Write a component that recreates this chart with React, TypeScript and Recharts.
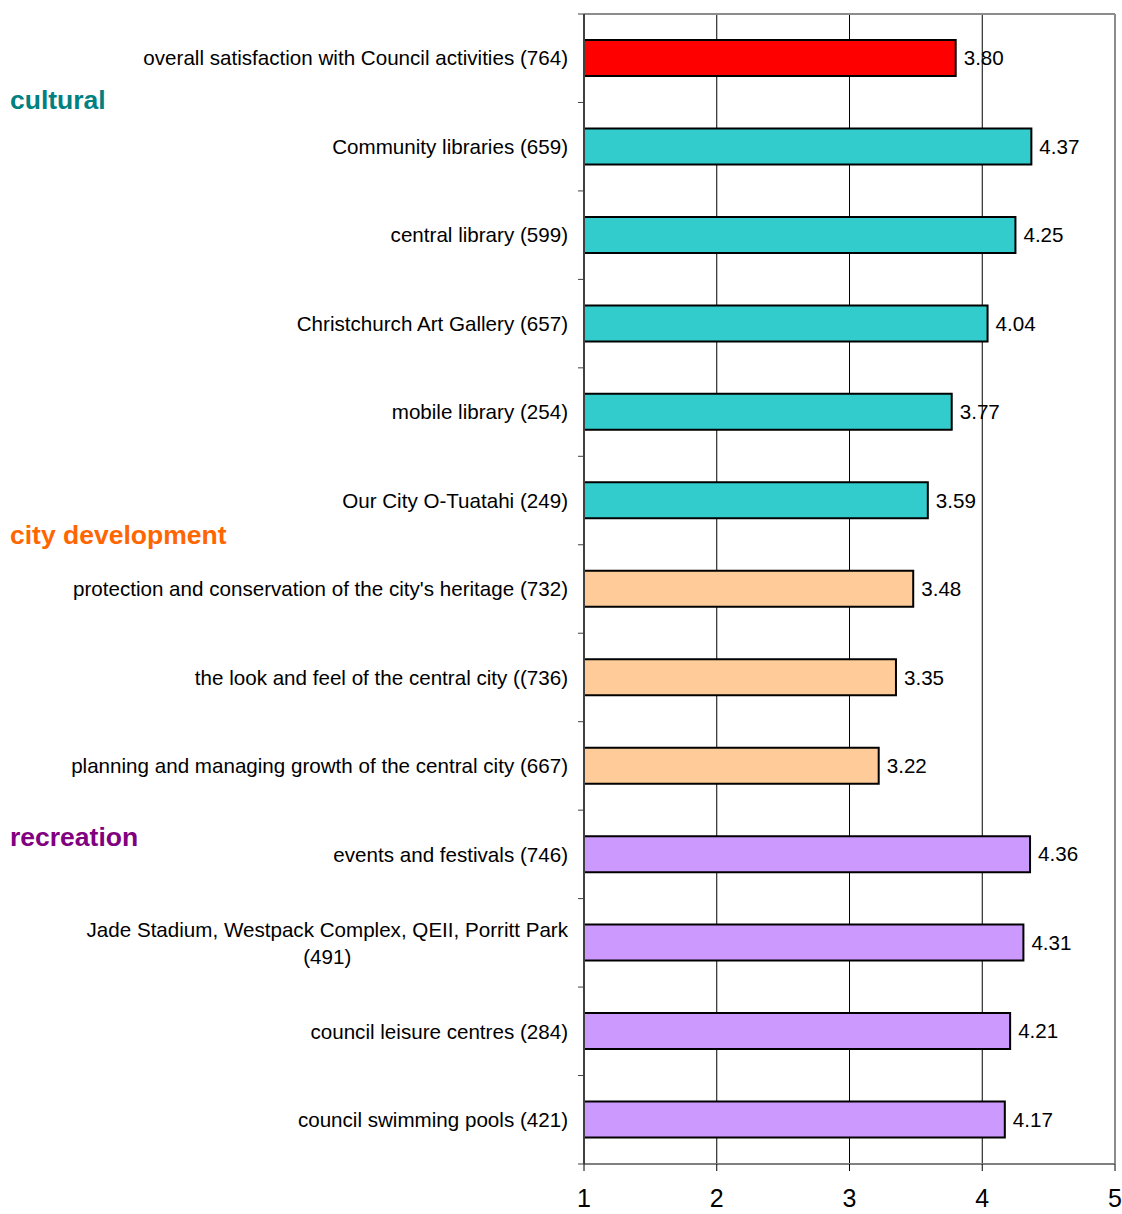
import React from 'react';
import { BarChart, Bar, XAxis, YAxis, CartesianGrid, Cell, LabelList } from 'recharts';

// rows, top to bottom
const categories = [
  'overall satisfaction with Council activities (764)',
  'Community libraries (659)',
  'central library (599)',
  'Christchurch Art Gallery (657)',
  'mobile library (254)',
  'Our City O-Tuatahi (249)',
  "protection and conservation of the city's heritage (732)",
  'the look and feel of the central city ((736)',
  'planning and managing growth of the central city (667)',
  'events and festivals (746)',
  'Jade Stadium, Westpack Complex, QEII, Porritt Park (491)',
  'council leisure centres (284)',
  'council swimming pools (421)',
];
const scores = [3.8, 4.37, 4.25, 4.04, 3.77, 3.59, 3.48, 3.35, 3.22, 4.36, 4.31, 4.21, 4.17];
const groupOf = [
  'overall', 'cultural', 'cultural', 'cultural', 'cultural', 'cultural',
  'city development', 'city development', 'city development',
  'recreation', 'recreation', 'recreation', 'recreation',
];
const xTicks = [1, 2, 3, 4, 5];

const barColors: Record<string, string> = {
  overall: '#FF0000',
  cultural: '#33CCCC',
  'city development': '#FFCC99',
  recreation: '#CC99FF',
};
const headers = [
  { text: 'cultural', color: '#008080' },
  { text: 'city development', color: '#FF6600' },
  { text: 'recreation', color: '#800080' },
];
const headerTops = [85, 520, 822];

const W = 1122;
const H = 1214;
const MARGIN = { top: 14, right: 7, left: 0, bottom: 0 };
const X_AXIS_H = 50;
const Y_AXIS_W = 584;
const BAND = (H - MARGIN.top - MARGIN.bottom - X_AXIS_H) / categories.length;
const LABEL_SIZE = 20.6;
const LABEL_FONT = `${LABEL_SIZE}px Arial, "Liberation Sans", sans-serif`;
const MAX_LABEL_W = 520;

const data = categories.map((name, i) => ({ name, score: scores[i], group: groupOf[i] }));

let ctx: CanvasRenderingContext2D | null = null;
const measure = (s: string) => {
  if (!ctx) {
    ctx = document.createElement('canvas').getContext('2d');
    if (ctx) ctx.font = LABEL_FONT;
  }
  return ctx ? ctx.measureText(s).width : s.length * 10;
};

const wrap = (s: string) => {
  if (measure(s) <= MAX_LABEL_W) return [s];
  const words = s.split(' ');
  const lines: string[] = [];
  let cur = '';
  for (const w of words) {
    const next = cur ? cur + ' ' + w : w;
    if (measure(next) > MAX_LABEL_W && cur) {
      lines.push(cur);
      cur = w;
    } else cur = next;
  }
  if (cur) lines.push(cur);
  return lines;
};

const CategoryTick = (props: any) => {
  const { x, y, payload, index } = props;
  const lines = wrap(String(payload.value));
  const axisX = x + 16;
  const marks = [y - BAND / 2];
  if (index === categories.length - 1) marks.push(y + BAND / 2);
  const maxW = Math.max(...lines.map(measure));
  const lh = 27;
  return (
    <g>
      {marks.map((my, k) => (
        <line key={k} x1={axisX - 6} x2={axisX} y1={my} y2={my} stroke="#404040" strokeWidth={1} />
      ))}
      {lines.length === 1 ? (
        <text x={x} y={y} dy="0.35em" textAnchor="end" fontSize={LABEL_SIZE} fill="#000">
          {lines[0]}
        </text>
      ) : (
        <text x={x - maxW / 2} y={y - ((lines.length - 1) * lh) / 2} textAnchor="middle" fontSize={LABEL_SIZE} fill="#000">
          {lines.map((l, k) => (
            <tspan key={k} x={x - maxW / 2} dy={k === 0 ? '0.35em' : lh}>
              {l}
            </tspan>
          ))}
        </text>
      )}
    </g>
  );
};

export default function App() {
  return (
    <div
      style={{
        position: 'absolute',
        left: 0,
        top: 0,
        width: W,
        height: H,
        background: '#fff',
        fontFamily: 'Arial, "Liberation Sans", sans-serif',
      }}
    >
      <BarChart width={W} height={H} data={data} layout="vertical" margin={MARGIN}>
        <CartesianGrid xAxisId="bottom" yAxisId="left" horizontal={false} stroke="#000" strokeWidth={1} />
        {/* plot frame: top and right edges */}
        <CartesianGrid
          xAxisId="bottom"
          yAxisId="left"
          stroke="#8c8c8c"
          strokeWidth={2}
          horizontalCoordinatesGenerator={({ offset }: any) => [offset.top]}
          verticalCoordinatesGenerator={({ offset }: any) => [offset.left + offset.width]}
        />
        <XAxis
          xAxisId="bottom"
          type="number"
          domain={[1, 5]}
          ticks={xTicks}
          allowDataOverflow
          height={X_AXIS_H}
          tickSize={7}
          tickMargin={18}
          axisLine={{ stroke: '#808080', strokeWidth: 2 }}
          tickLine={{ stroke: '#000' }}
          tick={{ fill: '#000', fontSize: 25 }}
        />
        <YAxis
          yAxisId="left"
          type="category"
          dataKey="name"
          width={Y_AXIS_W}
          tickSize={0}
          tickMargin={16}
          interval={0}
          axisLine={{ stroke: '#404040', strokeWidth: 2 }}
          tickLine={false}
          tick={<CategoryTick />}
        />
        <Bar
          xAxisId="bottom"
          yAxisId="left"
          dataKey="score"
          barSize={36}
          stroke="#000"
          strokeWidth={2}
          isAnimationActive={false}
        >
          {data.map((d, i) => (
            <Cell key={i} fill={barColors[d.group]} />
          ))}
          <LabelList
            dataKey="score"
            position="right"
            offset={8}
            fill="#000"
            fontSize={20.6}
            formatter={(v: any) => Number(v).toFixed(2)}
          />
        </Bar>
      </BarChart>
      {headers.map((h, i) => (
        <div
          key={h.text}
          style={{
            position: 'absolute',
            left: 10,
            top: headerTops[i],
            fontSize: 26.5,
            lineHeight: '30px',
            fontWeight: 'bold',
            color: h.color,
            whiteSpace: 'nowrap',
          }}
        >
          {h.text}
        </div>
      ))}
    </div>
  );
}
